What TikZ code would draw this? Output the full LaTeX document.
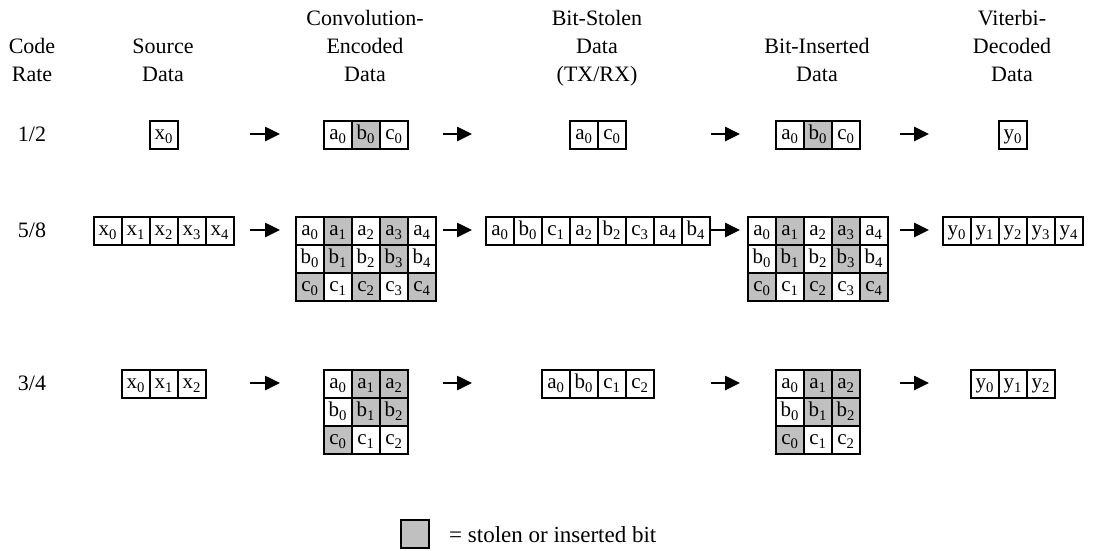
\documentclass[tikz,border=0pt]{standalone}
\usepackage{fontspec}
\setmainfont{Liberation Serif}
\usetikzlibrary{arrows.meta}
\definecolor{sg}{RGB}{192,192,192}
\newcommand\rowcells[4]{%
  \foreach \lab/\fl [count=\i from 0] in {#4} {
    \node[cellbox, fill=\fl] (#1-\i) at ({#2+28*\i},#3) {\lab};
  }%
}
\newcommand\sub[2]{#1\textsubscript{#2}}
\begin{document}
\begin{tikzpicture}[x=1pt,y=-1pt,
  cellbox/.style={draw=black, line width=1.8pt, minimum width=28pt, minimum height=28pt,
    inner sep=0pt, anchor=north west, text height=14pt, text depth=4pt,
    font=\fontsize{21}{24}\selectfont},
  hdr/.style={anchor=base, inner sep=0pt, font=\fontsize{22}{26}\selectfont},
  rate/.style={anchor=base, inner sep=0pt, font=\fontsize{22}{26}\selectfont},
  arr/.style={line width=2.6pt, -{Triangle[length=15pt,width=14pt]}},
]
\useasboundingbox (0,0) rectangle (1109,550);

% headers
\node[hdr] (hc1) at (32,53) {Code};
\node[hdr] (hc2) at (32,81) {Rate};
\node[hdr] (hs1) at (163,53) {Source};
\node[hdr] (hs2) at (163,81) {Data};
\node[hdr] (he1) at (365,25) {Convolution-};
\node[hdr] (he2) at (365,53) {Encoded};
\node[hdr] (he3) at (365,81) {Data};
\node[hdr] (hb1) at (597,25) {Bit-Stolen};
\node[hdr] (hb2) at (597,53) {Data};
\node[hdr] (hb3) at (597,81) {(TX/RX)};
\node[hdr] (hi1) at (817,53) {Bit-Inserted};
\node[hdr] (hi2) at (817,81) {Data};
\node[hdr] (hv1) at (1012,25) {Viterbi-};
\node[hdr] (hv2) at (1012,53) {Decoded};
\node[hdr] (hv3) at (1012,81) {Data};

% rate labels
\node[rate] (ra) at (32,141) {1/2};
\node[rate] (rb) at (32,237) {5/8};
\node[rate] (rc) at (32,390) {3/4};

% ---- row 1/2
\rowcells{ax}{149}{120}{\sub{x}{0}/white}
\rowcells{ae}{323}{120}{\sub{a}{0}/white,\sub{b}{0}/sg,\sub{c}{0}/white}
\rowcells{as}{569}{120}{\sub{a}{0}/white,\sub{c}{0}/white}
\rowcells{ai}{775}{120}{\sub{a}{0}/white,\sub{b}{0}/sg,\sub{c}{0}/white}
\rowcells{ay}{998}{120}{\sub{y}{0}/white}

% ---- row 5/8
\rowcells{bx}{93}{216}{\sub{x}{0}/white,\sub{x}{1}/white,\sub{x}{2}/white,\sub{x}{3}/white,\sub{x}{4}/white}
\rowcells{bea}{295}{216}{\sub{a}{0}/white,\sub{a}{1}/sg,\sub{a}{2}/white,\sub{a}{3}/sg,\sub{a}{4}/white}
\rowcells{beb}{295}{244}{\sub{b}{0}/white,\sub{b}{1}/sg,\sub{b}{2}/white,\sub{b}{3}/sg,\sub{b}{4}/white}
\rowcells{bec}{295}{272}{\sub{c}{0}/sg,\sub{c}{1}/white,\sub{c}{2}/sg,\sub{c}{3}/white,\sub{c}{4}/sg}
\rowcells{bs}{485}{216}{\sub{a}{0}/white,\sub{b}{0}/white,\sub{c}{1}/white,\sub{a}{2}/white,\sub{b}{2}/white,\sub{c}{3}/white,\sub{a}{4}/white,\sub{b}{4}/white}
\rowcells{bia}{747}{216}{\sub{a}{0}/white,\sub{a}{1}/sg,\sub{a}{2}/white,\sub{a}{3}/sg,\sub{a}{4}/white}
\rowcells{bib}{747}{244}{\sub{b}{0}/white,\sub{b}{1}/sg,\sub{b}{2}/white,\sub{b}{3}/sg,\sub{b}{4}/white}
\rowcells{bic}{747}{272}{\sub{c}{0}/sg,\sub{c}{1}/white,\sub{c}{2}/sg,\sub{c}{3}/white,\sub{c}{4}/sg}
\rowcells{by}{942}{216}{\sub{y}{0}/white,\sub{y}{1}/white,\sub{y}{2}/white,\sub{y}{3}/white,\sub{y}{4}/white}

% ---- row 3/4
\rowcells{cx}{121}{369}{\sub{x}{0}/white,\sub{x}{1}/white,\sub{x}{2}/white}
\rowcells{cea}{323}{369}{\sub{a}{0}/white,\sub{a}{1}/sg,\sub{a}{2}/sg}
\rowcells{ceb}{323}{397}{\sub{b}{0}/white,\sub{b}{1}/sg,\sub{b}{2}/sg}
\rowcells{cec}{323}{425}{\sub{c}{0}/sg,\sub{c}{1}/white,\sub{c}{2}/white}
\rowcells{cs}{541}{369}{\sub{a}{0}/white,\sub{b}{0}/white,\sub{c}{1}/white,\sub{c}{2}/white}
\rowcells{cia}{775}{369}{\sub{a}{0}/white,\sub{a}{1}/sg,\sub{a}{2}/sg}
\rowcells{cib}{775}{397}{\sub{b}{0}/white,\sub{b}{1}/sg,\sub{b}{2}/sg}
\rowcells{cic}{775}{425}{\sub{c}{0}/sg,\sub{c}{1}/white,\sub{c}{2}/white}
\rowcells{cy}{970}{369}{\sub{y}{0}/white,\sub{y}{1}/white,\sub{y}{2}/white}

% ---- arrows
\foreach \r/\y in {a/134,b/230,c/383} {
  \coordinate (\r p1) at (250,\y); \coordinate (\r q1) at (280,\y);
  \coordinate (\r p2) at (443,\y); \coordinate (\r q2) at (472,\y);
  \coordinate (\r p3) at (711,\y); \coordinate (\r q3) at (740,\y);
  \coordinate (\r p4) at (900,\y); \coordinate (\r q4) at (929,\y);
  \foreach \k in {1,2,3,4} { \draw[arr] (\r p\k) -- (\r q\k); }
}

% ---- legend
\node[cellbox, fill=sg] (leg) at (400,519) {};
\node[anchor=base west, inner sep=0pt, font=\fontsize{23}{26}\selectfont] (legt) at (449,542) {= stolen or inserted bit};
\end{tikzpicture}
\end{document}
